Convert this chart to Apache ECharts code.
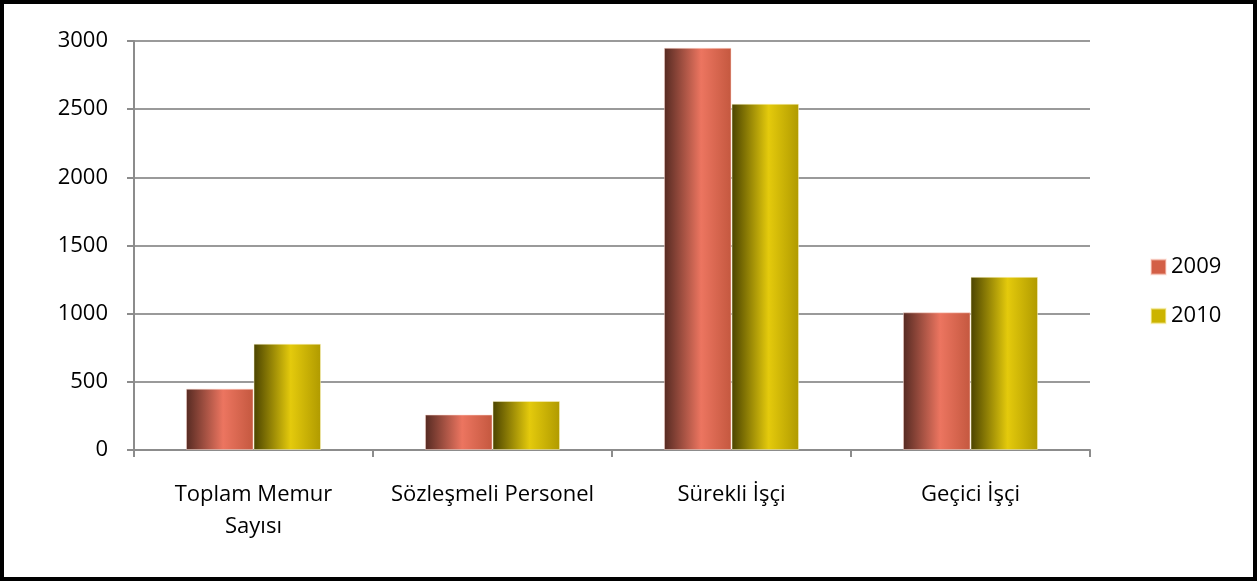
<!DOCTYPE html>
<html><head><meta charset="utf-8">
<script src="https://cdn.jsdelivr.net/npm/echarts@6/dist/echarts.min.js"></script>
<style>
html,body{margin:0;padding:0;background:#fff;}
#frame{position:absolute;left:0;top:0;width:1257px;height:581px;box-sizing:border-box;border:4px solid #000;}
#c{position:absolute;left:0;top:0;width:1257px;height:581px;}
</style></head>
<body>
<div id="c"></div>
<div id="frame"></div>
<script>
const categories = ['Toplam Memur\nSayısı', 'Sözleşmeli Personel', 'Sürekli İşçi', 'Geçici İşçi'];
const seriesNames = ['2009', '2010'];
const values2009 = [450, 260, 2950, 1010];
const values2010 = [780, 360, 2540, 1270];
const yTicks = [0, 500, 1000, 1500, 2000, 2500, 3000];

function grad(c0, c1, c2) {
  return new echarts.graphic.LinearGradient(0, 0, 1, 0, [
    {offset: 0, color: c0}, {offset: 0.55, color: c1}, {offset: 1, color: c2}
  ]);
}
const font = '"Open Sans", "Noto Sans", sans-serif';
const chart = echarts.init(document.getElementById('c'));
chart.setOption({
  animation: false,
  textStyle: {fontFamily: font},
  grid: {left: 134, right: 167, top: 41, bottom: 131},
  legend: {
    orient: 'vertical', left: 1145, top: 251, itemGap: 27,
    itemWidth: 15, itemHeight: 15, icon: 'rect',
    textStyle: {fontSize: 22, lineHeight: 22, color: '#000', fontFamily: font},
    data: [
      {name: seriesNames[0], itemStyle: {color: '#d35f46'}},
      {name: seriesNames[1], itemStyle: {color: '#ccb400'}}
    ]
  },
  xAxis: {
    type: 'category', data: categories,
    axisLine: {lineStyle: {color: '#8c8c8c', width: 2}},
    axisTick: {show: true, length: 7, lineStyle: {color: '#8c8c8c', width: 2}},
    axisLabel: {color: '#000', fontSize: 22, lineHeight: 32, margin: 29, fontFamily: font,
      interval: 0, hideOverlap: false}
  },
  yAxis: {
    type: 'value', min: 0, max: 3000, interval: 500,
    axisLine: {show: true, lineStyle: {color: '#8c8c8c', width: 2}},
    axisTick: {show: true, length: 7, lineStyle: {color: '#8c8c8c', width: 2}},
    splitLine: {lineStyle: {color: '#9a9a9a', width: 2}},
    axisLabel: {color: '#000', fontSize: 22, margin: 26, fontFamily: font,
      formatter: v => yTicks.includes(v) ? String(v) : ''}
  },
  series: [
    {name: seriesNames[0], type: 'bar', data: values2009, barGap: '0%', barCategoryGap: '43.5%',
     itemStyle: {color: grad('#552a22', '#ec7560', '#c4583f'), borderColor: 'rgba(255,220,210,0.5)', borderWidth: 1}},
    {name: seriesNames[1], type: 'bar', data: values2010,
     itemStyle: {color: grad('#4a4300', '#e4ca0c', '#b09a00'), borderColor: 'rgba(255,250,200,0.5)', borderWidth: 1}}
  ]
});
</script>
</body></html>
